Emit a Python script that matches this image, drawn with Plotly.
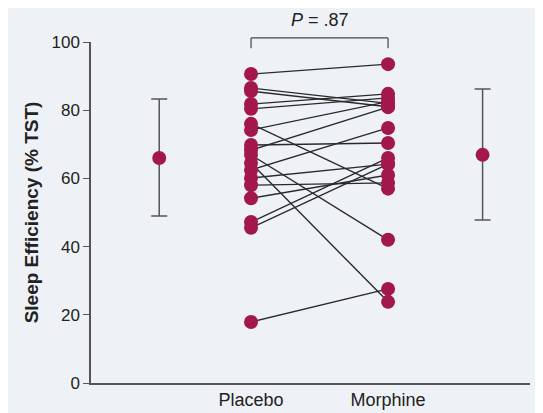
import plotly.graph_objects as go

groups = ["Placebo", "Morphine"]
placebo = [90.6, 86.5, 85.6, 81.8, 80.4, 76.0, 74.2, 69.8, 68.3, 66.9, 64.5, 62.5, 60.1, 58.0, 54.2, 47.2, 45.5, 17.9]
morphine = [93.5, 82.0, 81.0, 84.8, 83.6, 57.0, 82.5, 70.4, 80.9, 42.0, 23.8, 74.8, 64.2, 58.7, 61.0, 66.0, 64.2, 27.6]
mean_placebo = 66.0
mean_placebo_err = [49.0, 83.3]
mean_morphine = 66.9
mean_morphine_err = [47.8, 86.2]
p_label = "<i>P</i> = .87"
y_ticks = [0, 20, 40, 60, 80, 100]

X_PLAC, X_MORPH = 1.0, 2.0
X_MEAN_L, X_MEAN_R = 0.33, 2.69
RED = "#a3184b"
FONT = "Liberation Sans, Arial, Helvetica"

fig = go.Figure()
for a, b in zip(placebo, morphine):
    fig.add_trace(go.Scatter(x=[X_PLAC, X_MORPH], y=[a, b], mode="lines",
                             line=dict(color="#2a2a2a", width=1.4), showlegend=False, hoverinfo="skip"))
fig.add_trace(go.Scatter(x=[X_PLAC] * len(placebo), y=placebo, mode="markers",
                         marker=dict(color=RED, size=14), showlegend=False, cliponaxis=False))
fig.add_trace(go.Scatter(x=[X_MORPH] * len(morphine), y=morphine, mode="markers",
                         marker=dict(color=RED, size=14), showlegend=False, cliponaxis=False))
for xm, m, err in [(X_MEAN_L, mean_placebo, mean_placebo_err), (X_MEAN_R, mean_morphine, mean_morphine_err)]:
    fig.add_trace(go.Scatter(x=[xm], y=[m], mode="markers",
                             marker=dict(color=RED, size=14),
                             error_y=dict(type="data", symmetric=False, array=[err[1] - m],
                                          arrayminus=[m - err[0]], color="#555555", thickness=1.5, width=8),
                             showlegend=False))

# bracket (y in paper coords: 1.0 = top of plot area at value 100)
for x0, x1, y0, y1 in [(X_PLAC, X_PLAC, 0.982, 1.012), (X_MORPH, X_MORPH, 0.982, 1.012),
                       (X_PLAC, X_MORPH, 1.012, 1.012)]:
    fig.add_shape(type="line", x0=x0, x1=x1, y0=y0, y1=y1,
                  line=dict(color="#444444", width=1.2), xref="x", yref="paper")
fig.add_annotation(x=(X_PLAC + X_MORPH) / 2, y=1.03, yanchor="bottom", text=p_label, showarrow=False,
                   font=dict(size=18, color="#222222", family=FONT), xref="x", yref="paper")

fig.update_layout(
    width=543, height=413,
    margin=dict(l=83, r=21, t=34, b=38),
    paper_bgcolor="#eef2f6", plot_bgcolor="#eef2f6",
    font=dict(family=FONT, color="#222222"),
    xaxis=dict(range=[-0.168, 3.036], tickmode="array", tickvals=[X_PLAC, X_MORPH], ticktext=groups,
               showgrid=False, zeroline=False, showline=True, linecolor="#555555", linewidth=1.5,
               ticks="", tickfont=dict(size=18), automargin=False),
    yaxis=dict(range=[0, 100], tickvals=y_ticks, showgrid=False, zeroline=False, showline=True,
               linecolor="#555555", linewidth=1.5, ticks="outside", ticklen=6, tickcolor="#555555",
               tickfont=dict(size=17), automargin=False,
               title=dict(text="<b>Sleep Efficiency (% TST)</b>", font=dict(size=19), standoff=8)),
)
fig.write_html("out.html")
